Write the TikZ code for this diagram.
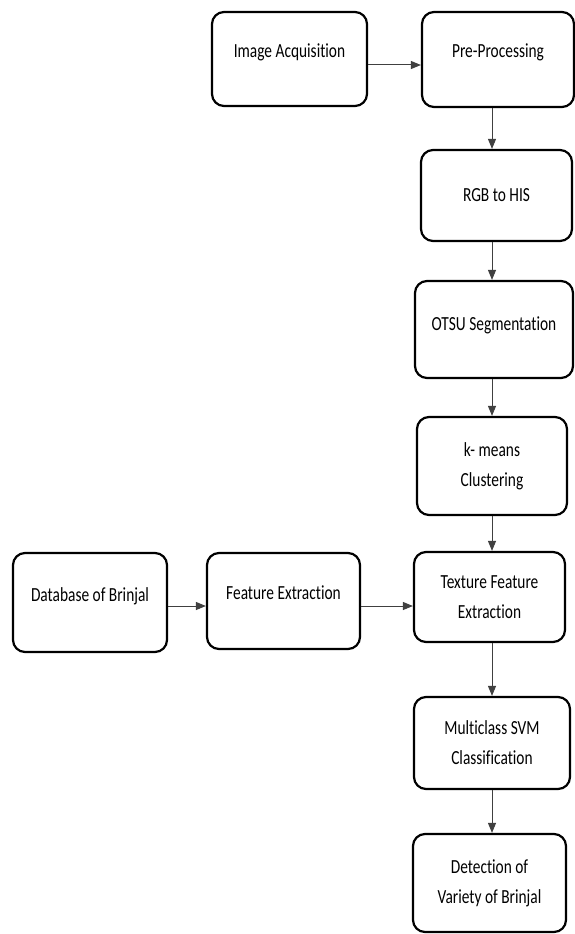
\documentclass[tikz,border=0pt]{standalone}
\usepackage{fontspec}
\setmainfont{Carlito}[FakeStretch=0.77,Ligatures=NoCommon]
\usetikzlibrary{arrows.meta}
\begin{document}
\begin{tikzpicture}[x=1pt,y=-1pt,
    box/.style={draw=black,line width=2.2pt,rounded corners=12pt,inner sep=0pt,
      align=center,font=\fontsize{20}{30}\selectfont,text=black},
    arr/.style={draw=black!75,line width=1pt,-{Triangle[length=10pt,width=8pt]}}]
  \useasboundingbox (0,0) rectangle (574,934);
  % top row
  \node[box,minimum width=155pt,text height=46pt,text depth=48pt] (acq) at (289.5,59) {Image Acquisition};
  \node[box,minimum width=152pt,text height=46pt,text depth=49pt] (pre) at (498,59.5) {Pre-Processing};
  % right column
  \node[box,minimum width=151pt,minimum height=91pt] (rgb) at (496.5,195.5) {RGB to HIS};
  \node[box,minimum width=158pt,text height=49pt,text depth=48pt] (otsu) at (494,329.5) {OTSU Segmentation};
  \node[box,minimum width=150pt,minimum height=98pt] (kmeans) at (492,466) {k- means\\Clustering};
  \node[box,minimum width=151pt,minimum height=90pt] (texture) at (489.5,597) {Texture Feature\\Extraction};
  \node[box,minimum width=156pt,minimum height=92pt] (svm) at (492,743) {Multiclass SVM\\Classification};
  \node[box,minimum width=153pt,minimum height=98pt] (detect) at (489.5,883) {Detection of\\Variety of Brinjal};
  % left row
  \node[box,minimum width=154pt,text height=48pt,text depth=51pt] (db) at (90,602.5) {Database of Brinjal};
  \node[box,minimum width=153pt,text height=46pt,text depth=50pt] (feat) at (283.5,601) {Feature Extraction};

  \coordinate (spine) at (492,0);
  \coordinate (toprow) at (0,65);
  \coordinate (midrow) at (0,606);
  \draw[arr] (acq.east |- toprow) -- (pre.west |- toprow);
  \draw[arr] (pre.south -| spine) -- (rgb.north -| spine);
  \draw[arr] (rgb.south -| spine) -- (otsu.north -| spine);
  \draw[arr] (otsu.south -| spine) -- (kmeans.north -| spine);
  \draw[arr] (kmeans.south -| spine) -- (texture.north -| spine);
  \draw[arr] (db.east |- midrow) -- (feat.west |- midrow);
  \draw[arr] (feat.east |- midrow) -- (texture.west |- midrow);
  \draw[arr] (texture.south -| spine) -- (svm.north -| spine);
  \draw[arr] (svm.south -| spine) -- (detect.north -| spine);
\end{tikzpicture}
\end{document}
